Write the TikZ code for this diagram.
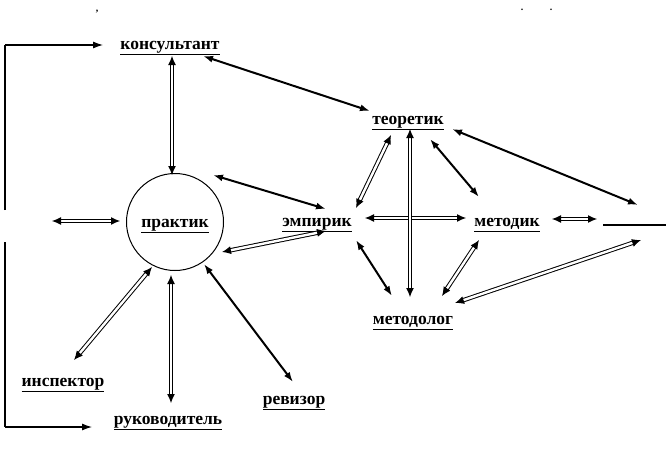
\documentclass[tikz,border=0pt]{standalone}
\usepackage{fontspec}
\setmainfont{Liberation Serif}
\usetikzlibrary{arrows.meta}
\begin{document}
\begin{tikzpicture}[x=1pt,y=-1pt,
  lbl/.style={font=\fontsize{17.5}{20}\selectfont\bfseries, inner sep=2pt},
  dbl/.style={draw=black, line width=1pt, double=white, double distance=2.4pt,
    {Latex[length=9pt,width=8pt]}-{Latex[length=9pt,width=8pt]}},
  sol/.style={line width=2pt, {Latex[length=10pt,width=7pt]}-{Latex[length=10pt,width=7pt]}},
  brk/.style={line width=1.1pt},
  brkarrow/.style={line width=1.1pt, -{Latex[length=10pt,width=7pt]}},
  speck/.style={font=\fontsize{10}{11}\selectfont\bfseries, inner sep=0pt, anchor=base}
]
\useasboundingbox (0,0) rectangle (666,450);

% stray marks at the top
\node[speck] (cm) at (97,11) {,};
\node[speck] (d1) at (522,10) {.};
\node[speck] (d2) at (551,10) {.};

% nodes
\node[lbl] (kons) at (170,48) {\underline{консультант}};
\node[lbl] (teor) at (408,123) {\underline{теоретик}};
\node[draw, circle, minimum size=97pt, inner sep=0pt, line width=1pt] (prak) at (175,222) {};
\node[lbl] (prakT) at (175,226) {\underline{практик}};
\node[lbl] (emp) at (317,225) {\underline{эмпирик}};
\node[lbl] (metk) at (507,225) {\underline{методик}};
\node[lbl] (metl) at (413,323) {\underline{методолог}};
\node[lbl] (insp) at (63,385) {\underline{инспектор}};
\node[lbl] (ruk) at (168,423) {\underline{руководитель}};
\node[lbl] (rev) at (294,403) {\underline{ревизор}};

% free ends
\coordinate (lft) at (52,221);
\coordinate (r1) at (638,205);
\coordinate (r2) at (597,219);
\coordinate (r3) at (641,240);
\coordinate (rl1) at (603,225);
\coordinate (rl2) at (666,225);

% left bracket
\coordinate (bt) at (5,45);
\coordinate (bm1) at (5,210);
\coordinate (bm2) at (5,242);
\coordinate (bb) at (5,427);
\draw[brk] (bm1) -- (bt);
\draw[brkarrow] (bt) -- (103,45);
\draw[brk] (bm2) -- (bb);
\draw[brkarrow] (bb) -- (92,427);

% right line
\draw[line width=1.1pt] (rl1) -- (rl2);

% connectors
\draw[dbl] ([shift={(2,8)}]kons.center) -- ([shift={(-3,-47)}]prak.center);
\draw[sol] ([shift={(33,8)}]kons.center) -- ([shift={(-38,-12)}]teor.center);
\draw[sol] ([shift={(38,-47)}]prak.center) -- ([shift={(9,-16)}]emp.center);
\draw[dbl] ([shift={(47,30)}]prak.center) -- ([shift={(9,6)}]emp.center);
\draw[dbl] (lft) -- ([shift={(-55,-1)}]prak.center);
\draw[dbl] ([shift={(-23,45)}]prak.center) -- ([shift={(11,-25)}]insp.center);
\draw[dbl] ([shift={(-4,53)}]prak.center) -- ([shift={(3,-20)}]ruk.center);
\draw[sol] ([shift={(29,42)}]prak.center) -- ([shift={(-1,-21)}]rev.center);
\draw[dbl] ([shift={(39,-17)}]emp.center) -- ([shift={(-17,12)}]teor.center);
\draw[dbl] ([shift={(48,-7)}]emp.center) -- ([shift={(-41,-7)}]metk.center);
\draw[dbl] ([shift={(2,6)}]teor.center) -- ([shift={(-3,-26)}]metl.center);
\draw[sol] ([shift={(22,16)}]teor.center) -- ([shift={(-28,-28)}]metk.center);
\draw[sol] ([shift={(44,6)}]teor.center) -- (r1);
\draw[dbl] ([shift={(45,-6)}]metk.center) -- (r2);
\draw[sol] ([shift={(39,15)}]emp.center) -- ([shift={(-21,-27)}]metl.center);
\draw[dbl] ([shift={(-28,15)}]metk.center) -- ([shift={(29,-27)}]metl.center);
\draw[dbl] ([shift={(42,-20)}]metl.center) -- (r3);
\end{tikzpicture}
\end{document}
